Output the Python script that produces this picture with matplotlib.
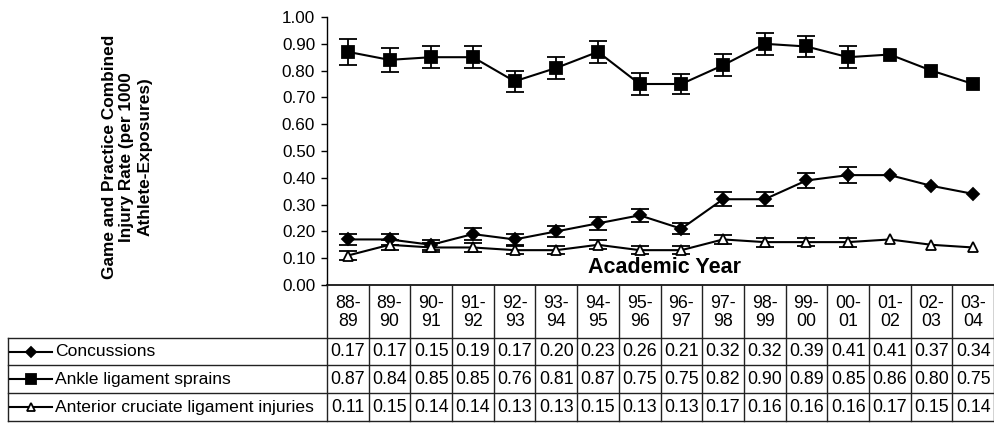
import numpy as np
import matplotlib
matplotlib.use("Agg")
import matplotlib.pyplot as plt
from matplotlib.lines import Line2D

plt.rcParams['font.family'] = ['Liberation Sans', 'DejaVu Sans']

years = ["88-\n89", "89-\n90", "90-\n91", "91-\n92", "92-\n93", "93-\n94", "94-\n95", "95-\n96",
         "96-\n97", "97-\n98", "98-\n99", "99-\n00", "00-\n01", "01-\n02", "02-\n03", "03-\n04"]
concussions = [0.17, 0.17, 0.15, 0.19, 0.17, 0.20, 0.23, 0.26, 0.21, 0.32, 0.32, 0.39, 0.41, 0.41, 0.37, 0.34]
ankle = [0.87, 0.84, 0.85, 0.85, 0.76, 0.81, 0.87, 0.75, 0.75, 0.82, 0.90, 0.89, 0.85, 0.86, 0.80, 0.75]
acl = [0.11, 0.15, 0.14, 0.14, 0.13, 0.13, 0.15, 0.13, 0.13, 0.17, 0.16, 0.16, 0.16, 0.17, 0.15, 0.14]
# error bars only for the first 13 seasons
conc_err = [0.022, 0.020, 0.018, 0.022, 0.020, 0.021, 0.024, 0.025, 0.020, 0.026, 0.026, 0.028, 0.030]
ankle_err = [0.048, 0.045, 0.042, 0.042, 0.040, 0.042, 0.042, 0.040, 0.038, 0.042, 0.042, 0.040, 0.040]
acl_err = [0.018, 0.018, 0.016, 0.016, 0.015, 0.015, 0.017, 0.015, 0.014, 0.017, 0.017, 0.016, 0.017]
series_names = ["Concussions", "Ankle ligament sprains", "Anterior cruciate ligament injuries"]

W, H = 994, 425
fig = plt.figure(figsize=(W / 100, H / 100), dpi=100)

left_px, right_px, top_px, zero_px = 327, 994, 17, 285
ax = fig.add_axes([left_px / W, 1 - zero_px / H, (right_px - left_px) / W, (zero_px - top_px) / H])
n = len(years)
x = np.arange(n)

styles = [
    dict(marker='D', markersize=6.5, markerfacecolor='black'),
    dict(marker='s', markersize=9, markerfacecolor='black'),
    dict(marker='^', markersize=7.5, markerfacecolor='white'),
]
for vals, errs, st in zip([concussions, ankle, acl], [conc_err, ankle_err, acl_err], styles):
    m = len(errs)
    ax.errorbar(x[:m], vals[:m], yerr=errs, fmt='none', ecolor='black', elinewidth=1.3,
                capsize=6.5, capthick=1.3, zorder=2)
    ax.plot(x, vals, color='black', lw=1.5, markeredgecolor='black', markeredgewidth=1.3,
            zorder=3, **st)

ax.set_xlim(-0.5, n - 0.5)
ax.set_ylim(0, 1.0)
ax.set_yticks(np.arange(0, 1.01, 0.1))
ax.set_yticklabels([f"{v:.2f}" for v in np.arange(0, 1.01, 0.1)], fontsize=12.3)
ax.set_xticks([])
ax.tick_params(axis='y', direction='out', length=4, width=1, pad=4.5)
for s in ['top', 'right']:
    ax.spines[s].set_visible(False)
ax.spines['left'].set_linewidth(1)
ax.spines['bottom'].set_linewidth(1.2)
ax.text(0.506, 0.045, "Academic Year", transform=ax.transAxes, ha='center', va='baseline',
        fontsize=15.5, fontweight='bold')

fig.text(127 / W, 1 - 157 / H, "Game and Practice Combined\nInjury Rate (per 1000\nAthlete-Exposures)",
         rotation=90, ha='center', va='center', fontsize=12.4, fontweight='bold', linespacing=1.22)

# table drawn in pixel coordinates
tax = fig.add_axes([0, 0, 1, 1])
tax.set_xlim(0, W)
tax.set_ylim(H, 0)
tax.axis('off')
colw = (right_px - left_px) / n
row_y = [285, 338, 365, 393, 421]
lab_x = 8
lc = '#222222'
# header verticals
for i in range(n + 1):
    xx = left_px + i * colw
    tax.plot([xx, xx], [row_y[0], row_y[-1]], color=lc, lw=1)
tax.plot([lab_x, lab_x], [row_y[1], row_y[-1]], color=lc, lw=1)
for k in range(1, 5):
    tax.plot([lab_x, right_px], [row_y[k], row_y[k]], color=lc, lw=1)
for i, lab in enumerate(years):
    tax.text(left_px + (i + 0.5) * colw, (row_y[0] + row_y[1]) / 2 + 1, lab, ha='center', va='center',
             fontsize=12.8, linespacing=1.0)
for r, (vals, st, name) in enumerate(zip([concussions, ankle, acl], styles, series_names)):
    yc = (row_y[r + 1] + row_y[r + 2]) / 2
    for i, v in enumerate(vals):
        tax.text(left_px + (i + 0.5) * colw, yc + 0.5, f"{v:.2f}", ha='center', va='center', fontsize=12.8)
    tax.add_line(Line2D([10, 52], [yc, yc], color='black', lw=1.5))
    ms = {'D': 5.5, 's': 7, '^': 6}[st['marker']]
    tax.add_line(Line2D([31], [yc], marker=st['marker'], markersize=ms, markerfacecolor=st['markerfacecolor'],
                        markeredgecolor='black', markeredgewidth=1.3, color='black'))
    tax.text(55, yc + 0.5, name, ha='left', va='center', fontsize=12.6)

fig.savefig("out.png", dpi=100)
